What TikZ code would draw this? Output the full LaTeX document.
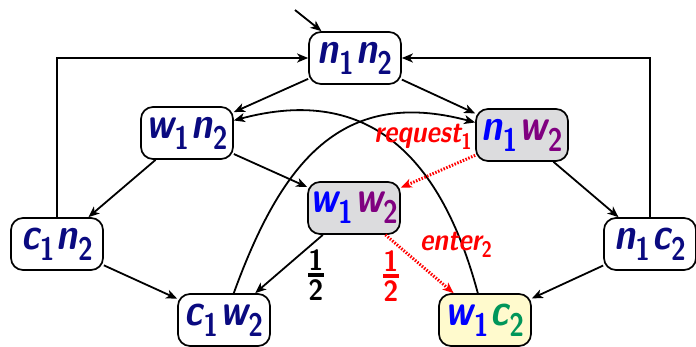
\documentclass[tikz,border=0pt]{standalone}
\usepackage{fontspec}
\usepackage{graphicx}
\usetikzlibrary{arrows.meta}
\renewcommand\familydefault{\sfdefault}
\definecolor{stnavy}{RGB}{10,10,128}
\definecolor{stblue}{RGB}{0,0,255}
\definecolor{stpurple}{RGB}{128,0,128}
\definecolor{stgreen}{RGB}{0,150,90}
\definecolor{stred}{RGB}{255,0,0}
\definecolor{stgrey}{RGB}{220,220,222}
\definecolor{styellow}{RGB}{255,250,205}
% process variable with an upright index set low, e.g. n_1
\newcommand\pv[3]{\textcolor{#1}{\itshape #2\kern0.01em\raisebox{-0.24em}{\scalebox{0.72}{\upshape #3}}}}
% pair of process variables forming a state name
\newcommand\pair[6]{\pv{#1}{#2}{#3}\kern2.5pt\pv{#4}{#5}{#6}}
% tall digit used in the fractions
\newcommand\tdig[1]{\scalebox{1.05}[1.12]{#1}}
% stacked one-half with a heavy bar
\newcommand\half[1]{\textcolor{#1}{\vbox{\hbox to 16pt{\hss\tdig{1}\hss}\kern3pt
  \hrule height 3.5pt\kern3pt\hbox to 16pt{\hss\tdig{2}\hss}}}}
\newcommand\stretchy[1]{\scalebox{1}[1.22]{#1}}

\begin{document}
\begin{tikzpicture}[x=1pt,y=-1pt,
  state/.style={draw,line width=1.7pt,rounded corners=12pt,minimum width=92pt,
    minimum height=52pt,inner sep=0pt,font=\fontsize{37}{40}\selectfont\bfseries},
  trans/.style={line width=1.8pt,-{Stealth[length=11pt,width=9pt,inset=3pt]}},
  prob/.style={trans,draw=stred,line width=3pt,dash pattern=on 1.5pt off 1.5pt},
  lbl/.style={text=stred,inner sep=0pt,font=\fontsize{26}{28}\selectfont\bfseries\itshape},
  frac/.style={inner sep=0pt,font=\fontsize{26}{28}\selectfont\bfseries}]
\useasboundingbox (0,0) rectangle (696,346);

% states
\node[state] (n1n2) at (355,58)  {\stretchy{\pair{stnavy}{n}{1}{stnavy}{n}{2}}};
\node[state] (w1n2) at (187,133) {\stretchy{\pair{stnavy}{w}{1}{stnavy}{n}{2}}};
\node[state,fill=stgrey] (n1w2) at (522,135) {\stretchy{\pair{stblue}{n}{1}{stpurple}{w}{2}}};
\node[state,fill=stgrey] (w1w2) at (354,208) {\stretchy{\pair{stblue}{w}{1}{stpurple}{w}{2}}};
\node[state] (c1n2) at (57,244)  {\stretchy{\pair{stnavy}{c}{1}{stnavy}{n}{2}}};
\node[state] (n1c2) at (650,244) {\stretchy{\pair{stnavy}{n}{1}{stnavy}{c}{2}}};
\node[state] (c1w2) at (224,320) {\stretchy{\pair{stnavy}{c}{1}{stnavy}{w}{2}}};
\node[state,fill=styellow] (w1c2) at (485,320) {\stretchy{\pair{stblue}{w}{1}{stgreen}{c}{2}}};

% initial state marker
\coordinate (init) at (295,10);
\draw[trans] (init) -- (n1n2);

% ordinary transitions
\draw[trans] (n1n2) -- (w1n2);
\draw[trans] (n1n2) -- (n1w2);
\draw[trans] (w1n2) -- (c1n2);
\draw[trans] (w1n2) -- (w1w2);
\draw[trans] (n1w2) -- (n1c2);
\draw[trans] (c1n2) -- (c1w2);
\draw[trans] (n1c2) -- (w1c2);
\draw[trans] (w1w2) -- (c1w2);
\draw[trans] (c1n2.north) |- (n1n2.west);
\draw[trans] (n1c2.north) |- (n1n2.east);
\draw[trans] (c1w2) to[out=70,in=165,looseness=1.2] (n1w2);
\draw[trans] (w1c2) to[out=105,in=15,looseness=1.2] (w1n2);

% highlighted path
\draw[prob] (n1w2) -- (w1w2);
\draw[prob] (w1w2) -- (w1c2);

% labels
\node[lbl] (req) at (423,137) {\scalebox{1}[1.2]{request\raisebox{-0.24em}{\scalebox{0.72}{\upshape 1}}}};
\node[lbl] (ent) at (456,245) {\scalebox{1}[1.2]{enter\raisebox{-0.24em}{\scalebox{0.72}{\upshape 2}}}};
\node[frac] (hb) at (316,275) {\half{black}};
\node[frac] (hr) at (391,276) {\half{stred}};
\end{tikzpicture}
\end{document}
